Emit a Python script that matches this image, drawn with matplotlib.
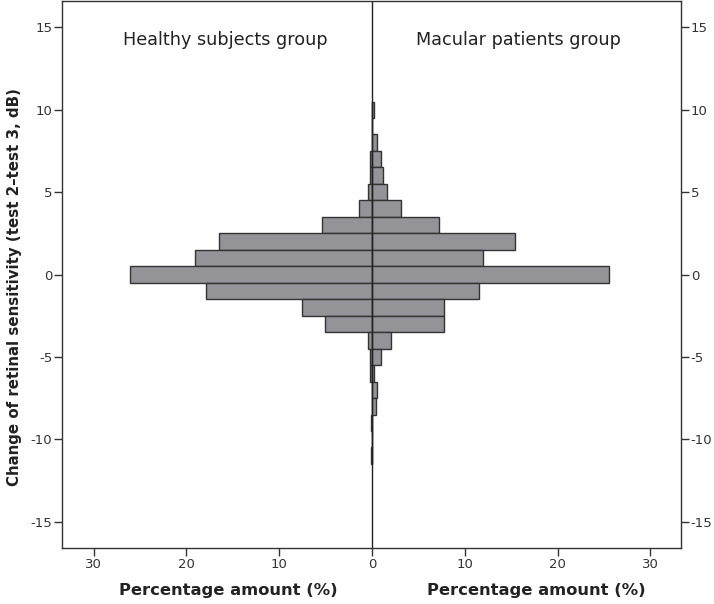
import matplotlib
matplotlib.use("Agg")
import matplotlib.pyplot as plt
import numpy as np

# Bin centres (dB change), bin width 1
bins = [10, 9, 8, 7, 6, 5, 4, 3, 2, 1, 0, -1, -2, -3, -4, -5, -6, -7, -8, -9, -10, -11]
# Percentage amount per bin
healthy = [0, 0, 0, 0.2, 0.2, 0.4, 1.35, 5.4, 16.45, 19.1, 26.05, 17.85, 7.55, 5.05,
           0.4, 0.2, 0.2, 0, 0, 0.1, 0, 0.15]
macular = [0.2, 0, 0.5, 1.0, 1.2, 1.6, 3.1, 7.2, 15.45, 12.0, 25.55, 11.55, 7.8, 7.8,
           2.0, 1.0, 0.25, 0.5, 0.45, 0, 0, 0]
xticks = [-30, -20, -10, 0, 10, 20, 30]
yticks = [-15, -10, -5, 0, 5, 10, 15]
left_title = "Healthy subjects group"
right_title = "Macular patients group"
xlabel = "Percentage amount (%)"
ylabel = "Change of retinal sensitivity (test 2\u2013test 3, dB)"

fig = plt.figure(figsize=(7.14, 6.04), dpi=100)
ax = fig.add_axes([62/714, 1 - 548/604, (681-62)/714, (548-1)/604])

fill = "#939398"
edge = "#333333"
ax.barh(bins, [-v for v in healthy], height=1.0, color=fill, edgecolor=edge, linewidth=1.0)
ax.barh(bins, macular, height=1.0, color=fill, edgecolor=edge, linewidth=1.0)
ax.axvline(0, color="#222222", linewidth=1.0)

ax.set_xlim(-33.4, 33.3)
ax.set_ylim(-16.6, 16.6)
ax.set_xticks(xticks)
ax.set_xticklabels([str(abs(t)) for t in xticks])
ax.set_yticks(yticks)
ax.set_yticklabels([str(t) for t in yticks])
ax.tick_params(axis="both", direction="out", length=6, width=1, color="#333333",
               labelsize=9.5, labelcolor="#333333", pad=1)
ax.tick_params(axis="y", right=True, labelright=True)
for s in ax.spines.values():
    s.set_color("#333333")
    s.set_linewidth(1.0)

ax.text(-15.8, 14.25, left_title, ha="center", va="center", fontsize=12.7, color="#222222")
ax.text(15.8, 14.25, right_title, ha="center", va="center", fontsize=12.7, color="#222222")

fig.text(228/714, 1 - 591/604, xlabel, ha="center", va="center", fontsize=11.8,
         fontweight="bold", color="#222222")
fig.text(536/714, 1 - 591/604, xlabel, ha="center", va="center", fontsize=11.8,
         fontweight="bold", color="#222222")
fig.text(15/714, 1 - 287/604, ylabel, ha="center", va="center", rotation=90,
         fontsize=10.8, fontweight="bold", color="#222222")

fig.savefig("out.png", dpi=100)
